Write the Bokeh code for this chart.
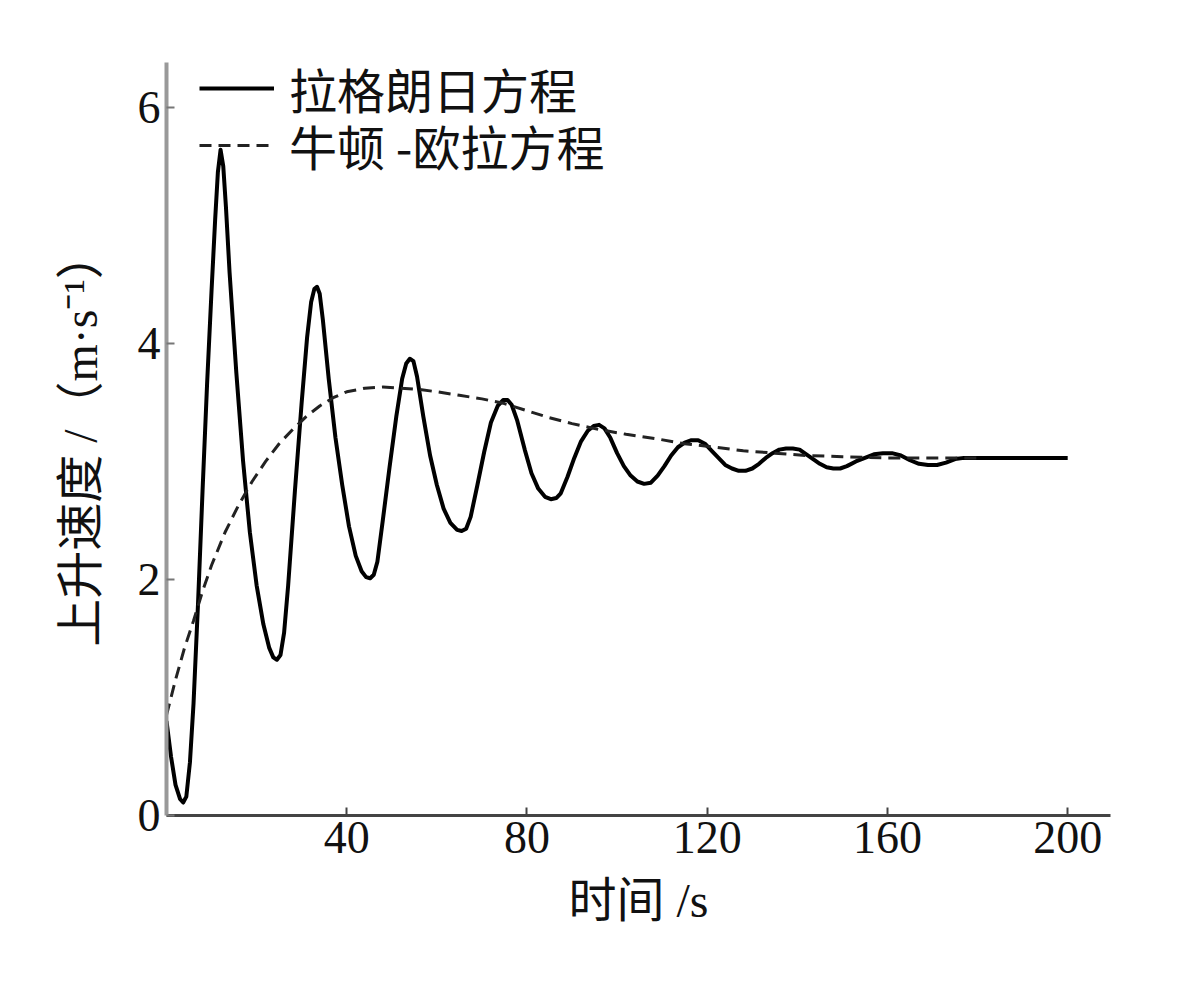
from bokeh.plotting import figure
from bokeh.models import Range1d, FixedTicker, Legend, LegendItem
from bokeh.embed import file_html
from bokeh.resources import INLINE

# Lagrange equation (solid)
lag_t = [0, 1, 2, 3, 3.7, 4.4, 5.2, 6, 7, 8, 9, 10, 10.8, 11.4, 12.0, 12.6, 13.2, 14, 15.5, 17, 18.5, 20,
         21.5, 22.8, 23.7, 24.5, 25.3, 26.1, 27, 28.5, 30, 31.2, 32.1, 32.8, 33.4, 34.0, 34.7, 36, 37.5, 39,
         40.5, 42, 43.3, 44.3, 45.2, 46.0, 46.8, 48, 49.5, 51, 52.3, 53.2, 54.0, 54.8, 55.6, 57, 58.5, 60,
         61.5, 63, 64.5, 65.5, 66.5, 67.5, 69, 70.5, 72, 73.5, 74.7, 75.7, 76.6, 77.8, 79.5, 81, 82.5, 84,
         85.3, 86.5, 87.5, 89, 90.5, 92, 93.5, 94.8, 96, 97.2, 98.5, 100, 101.5, 103, 104.5, 106, 107.5,
         109, 110.5, 112, 113.5, 115, 116.5, 118, 119.5, 121, 122.5, 124, 125.5, 127, 128.5, 130, 131.5,
         133, 134.5, 136, 137.5, 139, 140.5, 142, 143.5, 145, 146.5, 148, 149.5, 151, 153, 155, 157, 159,
         161, 163, 165, 167, 169, 171, 173, 175, 177, 200]
lag_v = [0.80, 0.50, 0.26, 0.14, 0.11, 0.16, 0.45, 0.95, 1.80, 2.75, 3.65, 4.45, 5.05, 5.45, 5.64, 5.50, 5.15, 4.60, 3.75, 3.00, 2.40, 1.95,
         1.62, 1.42, 1.34, 1.32, 1.36, 1.55, 1.95, 2.75, 3.50, 4.05, 4.35, 4.46, 4.48, 4.42, 4.20, 3.70, 3.20, 2.80,
         2.45, 2.20, 2.07, 2.02, 2.01, 2.04, 2.15, 2.50, 2.95, 3.38, 3.70, 3.83, 3.87, 3.85, 3.72, 3.38, 3.05, 2.80,
         2.60, 2.48, 2.42, 2.41, 2.43, 2.53, 2.80, 3.08, 3.33, 3.47, 3.52, 3.52, 3.48, 3.35, 3.10, 2.90, 2.77, 2.70,
         2.68, 2.69, 2.73, 2.87, 3.03, 3.17, 3.26, 3.30, 3.31, 3.28, 3.20, 3.07, 2.96, 2.88, 2.83, 2.81, 2.82,
         2.88, 2.96, 3.05, 3.12, 3.16, 3.18, 3.18, 3.15, 3.09, 3.03, 2.97, 2.94, 2.92, 2.92, 2.94, 2.98,
         3.03, 3.07, 3.10, 3.11, 3.11, 3.10, 3.06, 3.02, 2.98, 2.95, 2.94, 2.94, 2.96, 3.00, 3.03, 3.06, 3.07,
         3.07, 3.05, 3.01, 2.98, 2.97, 2.97, 2.99, 3.02, 3.03, 3.03]

# Newton-Euler equation (dashed)
ne_t = [0, 2, 4, 6, 8, 10, 13, 16, 19, 22, 25, 28, 31, 34, 37, 40, 44, 48, 52, 56, 60, 65, 70, 75,
        80, 85, 90, 96, 102, 109, 115, 122, 128, 135, 142, 150, 160, 170, 180]
ne_v = [0.85, 1.15, 1.42, 1.65, 1.90, 2.12, 2.40, 2.63, 2.83, 3.00, 3.15, 3.27, 3.38, 3.47, 3.54, 3.59,
        3.62, 3.63, 3.62, 3.61, 3.59, 3.56, 3.53, 3.49, 3.43, 3.37, 3.32, 3.27, 3.23, 3.19, 3.15, 3.12,
        3.09, 3.07, 3.05, 3.04, 3.03, 3.03, 3.03]

x_ticks = [40, 80, 120, 160, 200]
y_ticks = [0, 2, 4, 6]
legend_labels = ["拉格朗日方程", "牛顿 -欧拉方程"]
x_title = "时间 /s"
y_title = "上升速度 /（m·s⁻¹）"

SERIF = "'Liberation Serif', 'Noto Sans CJK SC'"
CJK = "'Noto Sans CJK SC', 'Liberation Serif'"

p = figure(width=1184, height=965, output_backend="svg", toolbar_location=None,
           x_range=Range1d(0, 209.5), y_range=Range1d(0, 6.38),
           min_border_left=166, min_border_right=74, min_border_top=62, min_border_bottom=150)
p.outline_line_color = None
p.grid.visible = False
p.background_fill_color = "white"
p.border_fill_color = "white"

r1 = p.line(lag_t, lag_v, line_color="black", line_width=4, line_join="round")
r2 = p.line(ne_t, ne_v, line_color="#222222", line_width=3, line_dash="12 7")

for ax in (p.xaxis[0], p.yaxis[0]):
    ax.major_tick_in = 8
    ax.major_tick_out = 0
    ax.minor_tick_line_color = None
    ax.major_label_text_font = SERIF
    ax.major_label_text_font_size = "46px"
    ax.major_label_text_color = "#111111"
    ax.axis_label_text_font = SERIF
    ax.axis_label_text_font_size = "48px"
    ax.axis_label_text_font_style = "normal"
    ax.axis_label_text_color = "#111111"

p.xaxis.ticker = FixedTicker(ticks=x_ticks)
p.yaxis.ticker = FixedTicker(ticks=y_ticks)
p.xaxis.axis_label = x_title
p.yaxis.axis_label = y_title
p.xaxis.axis_line_color = "#444444"
p.xaxis.axis_line_width = 3
p.xaxis.major_tick_line_color = "#444444"
p.xaxis.major_tick_line_width = 2
p.yaxis.axis_line_color = "#999999"
p.yaxis.axis_line_width = 4
p.yaxis.major_tick_line_color = "#777777"
p.yaxis.major_tick_line_width = 2
p.xaxis.major_label_standoff = 6
p.yaxis.major_label_standoff = 6
p.xaxis.axis_label_standoff = 18
p.yaxis.axis_label_standoff = 28


def make_legend(label, renderer, loc):
    lg = Legend(items=[LegendItem(label=label, renderers=[renderer])], location=loc)
    lg.glyph_width = 75
    lg.glyph_height = 40
    lg.label_height = 40
    lg.label_standoff = 15
    lg.spacing = 0
    lg.padding = 0
    lg.margin = 0
    lg.border_line_color = None
    lg.background_fill_alpha = 0
    lg.label_text_font = CJK
    lg.label_text_font_size = "48px"
    lg.label_text_color = "#111111"
    return lg


p.add_layout(make_legend(legend_labels[0], r1, (33, 692)))
p.add_layout(make_legend(legend_labels[1], r2, (33, 635)))

open("out.html", "w").write(file_html(p, INLINE))
